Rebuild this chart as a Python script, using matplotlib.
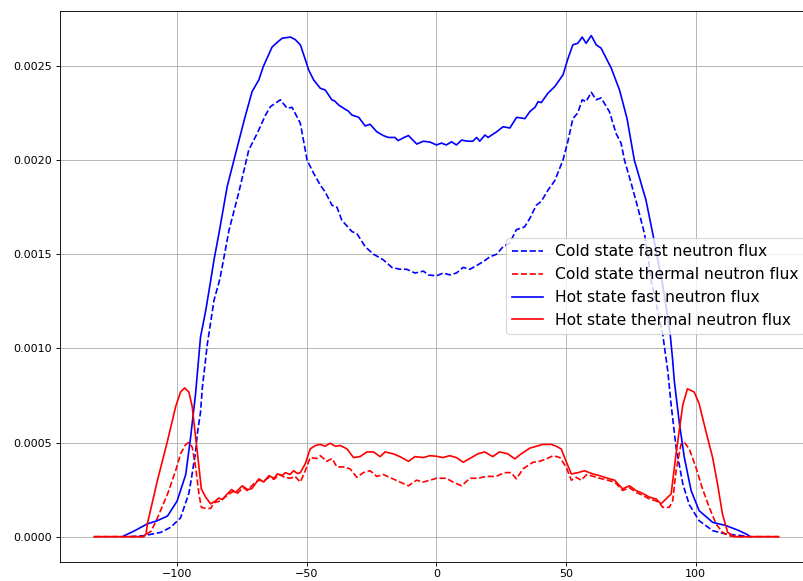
import numpy as np
import matplotlib
matplotlib.use("Agg")
import matplotlib.pyplot as plt

# axial positions and flux values (flux in units of 1e-5)
hot_fast_x = [-121, -120.4, -116.6, -111.5, -107.6, -103.7, -100, -96.7, -94.8, -92.9, -91, -89,
              -87.2, -85.8, -83.9, -80.7, -76.8, -74, -71.1, -68.5, -66.8, -63.4, -61, -59.5,
              -56.3, -54.5, -52.5, -50.5, -49.3, -47.4, -44.8, -42.9, -40.3, -39.4, -37.5, -35.8,
              -34, -32.6, -30, -27.5, -25.6, -23, -20.5, -18.6, -16, -14.8, -12.5, -10.8, -7.6,
              -5, -2.4, 0, 1.9, 3.8, 5.8, 7.7, 9.7, 12, 14, 15.5, 16.7, 18.7, 19.9, 23.2, 25.7,
              28.3, 30.9, 34.1, 36, 38, 39.2, 40.4, 43, 45.6, 48.8, 50.5, 52.6, 54.5, 56.2, 57.7,
              59.7, 61.6, 63.5, 67.4, 70.6, 73.5, 76.3, 80.8, 83.4, 87.2, 90.1, 91.1, 91.7, 93.7,
              95.6, 98.2, 101.3, 106.5, 111.6, 116.7, 120, 121]
hot_fast_y = [0, 0.5, 3, 6.8, 8.5, 11, 19, 33, 53, 76, 106, 120,
              135, 147, 161, 186, 207, 222, 236.4, 242.6, 249.6, 260, 263, 264.7,
              265.3, 264, 261.2, 253, 247.9, 242.6, 238.1, 237.2, 231.9, 231.5, 229, 227.5,
              226, 223.9, 222.7, 218.1, 219, 215, 213, 212, 212, 210.3, 212, 213, 208.5,
              210, 209.5, 208, 209, 208, 209.7, 208, 210.6, 210, 210, 212, 210, 213.3, 212, 215, 217.7,
              217, 222.7, 222, 225.7, 228, 231, 230.5, 235.5, 239, 245.2, 253, 261.2, 262, 265.3, 262,
              266.1, 261.2, 259.4, 248.8, 237.2, 222, 200, 178.7, 161, 134, 108, 93.6, 83, 60,
              42, 24.5, 13.8, 7.6, 5.9, 3.2, 1, 0]

cold_fast_x = [-118, -112.8, -106.3, -102.5, -98.7, -95.5, -94.5, -92.9, -92.2, -91, -90.3, -88.4,
               -85.8, -83.5, -82, -80, -76.2, -72.4, -69.2, -65.9, -64, -60.2, -58.5, -57.6, -55.7,
               -52.5, -49.9, -47.4, -44.8, -42.9, -40.3, -38.4, -36.5, -32.6, -30.7, -27.5, -24.3,
               -20.5, -17.2, -14.1, -11.5, -8.3, -5, -3.2, 0, 2.6, 5.2, 7.7, 10.3, 12.9, 15.5, 18,
               20.6, 23.2, 25.7, 28.3, 30.8, 34, 36, 38.5, 40.4, 43, 45.6, 48.8, 50.7, 52.6, 54.5,
               56.2, 57.7, 59.7, 61.6, 63.5, 66.7, 69.3, 71.2, 72.5, 75.1, 77.6, 80.2, 81.5, 82.8,
               85, 87.2, 89.2, 90.5, 92.4, 95, 97.5, 101.3, 106.5, 111.6, 118, 120]
cold_fast_y = [0, 0.5, 2.3, 5, 10, 23, 31, 45, 55, 66, 79, 102,
               125.5, 137, 148, 162.8, 183, 205.3, 214, 224, 228.4, 232, 229, 227.5, 228,
               219.5, 200, 193, 186.7, 183, 176, 175, 168, 162, 161, 154, 150,
               147, 143, 142, 142, 140, 141, 139, 138.5, 140, 139, 140, 143, 142, 144, 146,
               148.6, 150, 154, 156, 163, 164.5, 169, 176, 178, 184, 189, 200, 210, 222, 225,
               232, 231, 236, 232, 233, 225.7, 214, 209, 200, 187.6, 175, 161, 150, 136,
               122, 108, 88, 70, 47.5, 28, 17, 8.5, 3.2, 1.4, 0.5, 0]

hot_thermal_x = [-132, -113, -112, -111.5, -107.6, -103.7, -100.6, -98.7, -97.1, -95.5, -94.2,
                 -92.9, -91.6, -90.7, -89, -87.1, -85.2, -84, -82.6, -80.7, -79, -77.5, -74.9,
                 -72.8, -71.2, -68.5, -66.6, -64.6, -62.6, -61.4, -59.5, -58.3, -56.5, -55.1,
                 -53.5, -52.5, -50.6, -48.7, -46.7, -44.8, -43, -41, -39, -37.1, -34.5, -32,
                 -29.5, -26.8, -24.3, -21.7, -19.8, -16.7, -14.1, -10.8, -8.3, -5.1, -2.5, 0,
                 2.5, 5.1, 7.7, 10.3, 13.5, 16, 18.6, 21.7, 24.3, 27.5, 30.2, 32.7, 36, 38.5,
                 41, 44.3, 46.2, 48.1, 50, 52, 54.6, 57.1, 60.3, 62.9, 66, 68.7, 71.8, 74.4, 77,
                 79.5, 82.1, 84.7, 86.6, 88.5, 90.5, 92.4, 95, 96.8, 99.4, 101.3, 103.9, 106.5,
                 108.4, 110.3, 112.3, 114.2, 115.5, 132]
hot_thermal_y = [0, 0, 1.4, 6.8, 30, 51, 69, 76.8, 79, 76.8, 69,
                 53, 37, 25.4, 21, 17.4, 19, 20.5, 19.7, 22.7, 25, 23.5, 27,
                 25, 25.5, 30.7, 29, 32.4, 31, 33.3, 32.5, 34, 33, 35,
                 33.5, 34, 38.7, 46.6, 48.4, 49, 48, 49.6, 48, 48.4, 46.6, 42,
                 42.5, 45, 45, 42.5, 45, 44, 42.5, 40, 42.5, 42, 43, 42.7,
                 42, 43, 42, 39.5, 42, 44, 45, 42.5, 45, 44, 41.3, 44, 47, 48,
                 49, 49, 48, 46.6, 40, 33.3, 34, 35, 33.3, 32.4, 31, 30, 25.4, 27, 24.5,
                 23, 21, 20, 17.4, 20, 22.7, 44, 70, 78.5, 76.8, 70.6, 56, 42,
                 28, 12, 2.3, 0.5, 0, 0]

cold_thermal_x = [-132, -113, -112.8, -110, -107.6, -103.7, -100.6, -98.7, -96.7, -95.5, -94.2,
                  -92.9, -91.6, -90.7, -89, -87.1, -85.8, -83.3, -80.7, -78.5, -76.8, -74.5, -73,
                  -70.5, -68.5, -66.6, -64.6, -62.6, -60.7, -58.5, -56.3, -54.5, -52.5, -50.6,
                  -48.7, -46.1, -44.8, -42.3, -40.3, -38.4, -35.8, -33.3, -30.7, -28.2, -25.6,
                  -23, -20.5, -17.3, -14.1, -10.8, -7.7, -5.1, -2.5, 0, 3.8, 6.4, 9.7, 12.9, 16,
                  19.2, 23, 26.2, 28.8, 30.8, 33.4, 37.2, 39.7, 42.4, 45, 47.6, 50, 52, 53.9, 55.8,
                  58, 60.5, 63, 66, 68.7, 71.8, 74.4, 77, 79.5, 82.1, 84.7, 86, 87.2, 89.8, 91.1,
                  92.4, 94.3, 95.6, 97.5, 100, 102.6, 105.2, 107.8, 110.3, 112.8, 115, 132]
cold_thermal_y = [0, 0, 0.3, 3, 10, 22.7, 35, 44, 49, 50, 47.5,
                  37, 22.7, 15.6, 15, 15, 18, 19, 22, 24, 23, 26, 24.5,
                  28, 30, 29.5, 31.5, 30.5, 33, 31.5, 31, 32, 29, 35,
                  42, 41.5, 43, 40, 41.5, 37, 37, 36, 31.5, 34, 35,
                  32, 33, 31, 29, 27, 30, 29, 30, 31, 31, 29, 27, 31, 31,
                  32, 32, 34, 34, 30.7, 36, 39.5, 40, 41.3, 43, 42, 37, 30, 31.5, 30,
                  33, 32, 31, 30, 29, 24.5, 26, 23.5, 22, 20, 19, 18, 15.6, 15.6, 19,
                  35, 49, 50, 46.6, 37, 25.4, 15.6, 6.8, 2.3, 0.5, 0, 0]

scale = 1e-5

fig = plt.figure(figsize=(803 / 80, 581 / 80), dpi=80)
ax = fig.add_axes([0.0747, 0.0332, 0.9377, 0.9487])

ax.plot(cold_fast_x, np.array(cold_fast_y) * scale, 'b--', label='Cold state fast neutron flux')
ax.plot(cold_thermal_x, np.array(cold_thermal_y) * scale, 'r--', label='Cold state thermal neutron flux')
ax.plot(hot_fast_x, np.array(hot_fast_y) * scale, 'b-', label='Hot state fast neutron flux')
ax.plot(hot_thermal_x, np.array(hot_thermal_y) * scale, 'r-', label='Hot state thermal neutron flux')

ax.grid(True)
ax.legend(loc='center right', fontsize=14)

fig.savefig('out.png', dpi=80)
